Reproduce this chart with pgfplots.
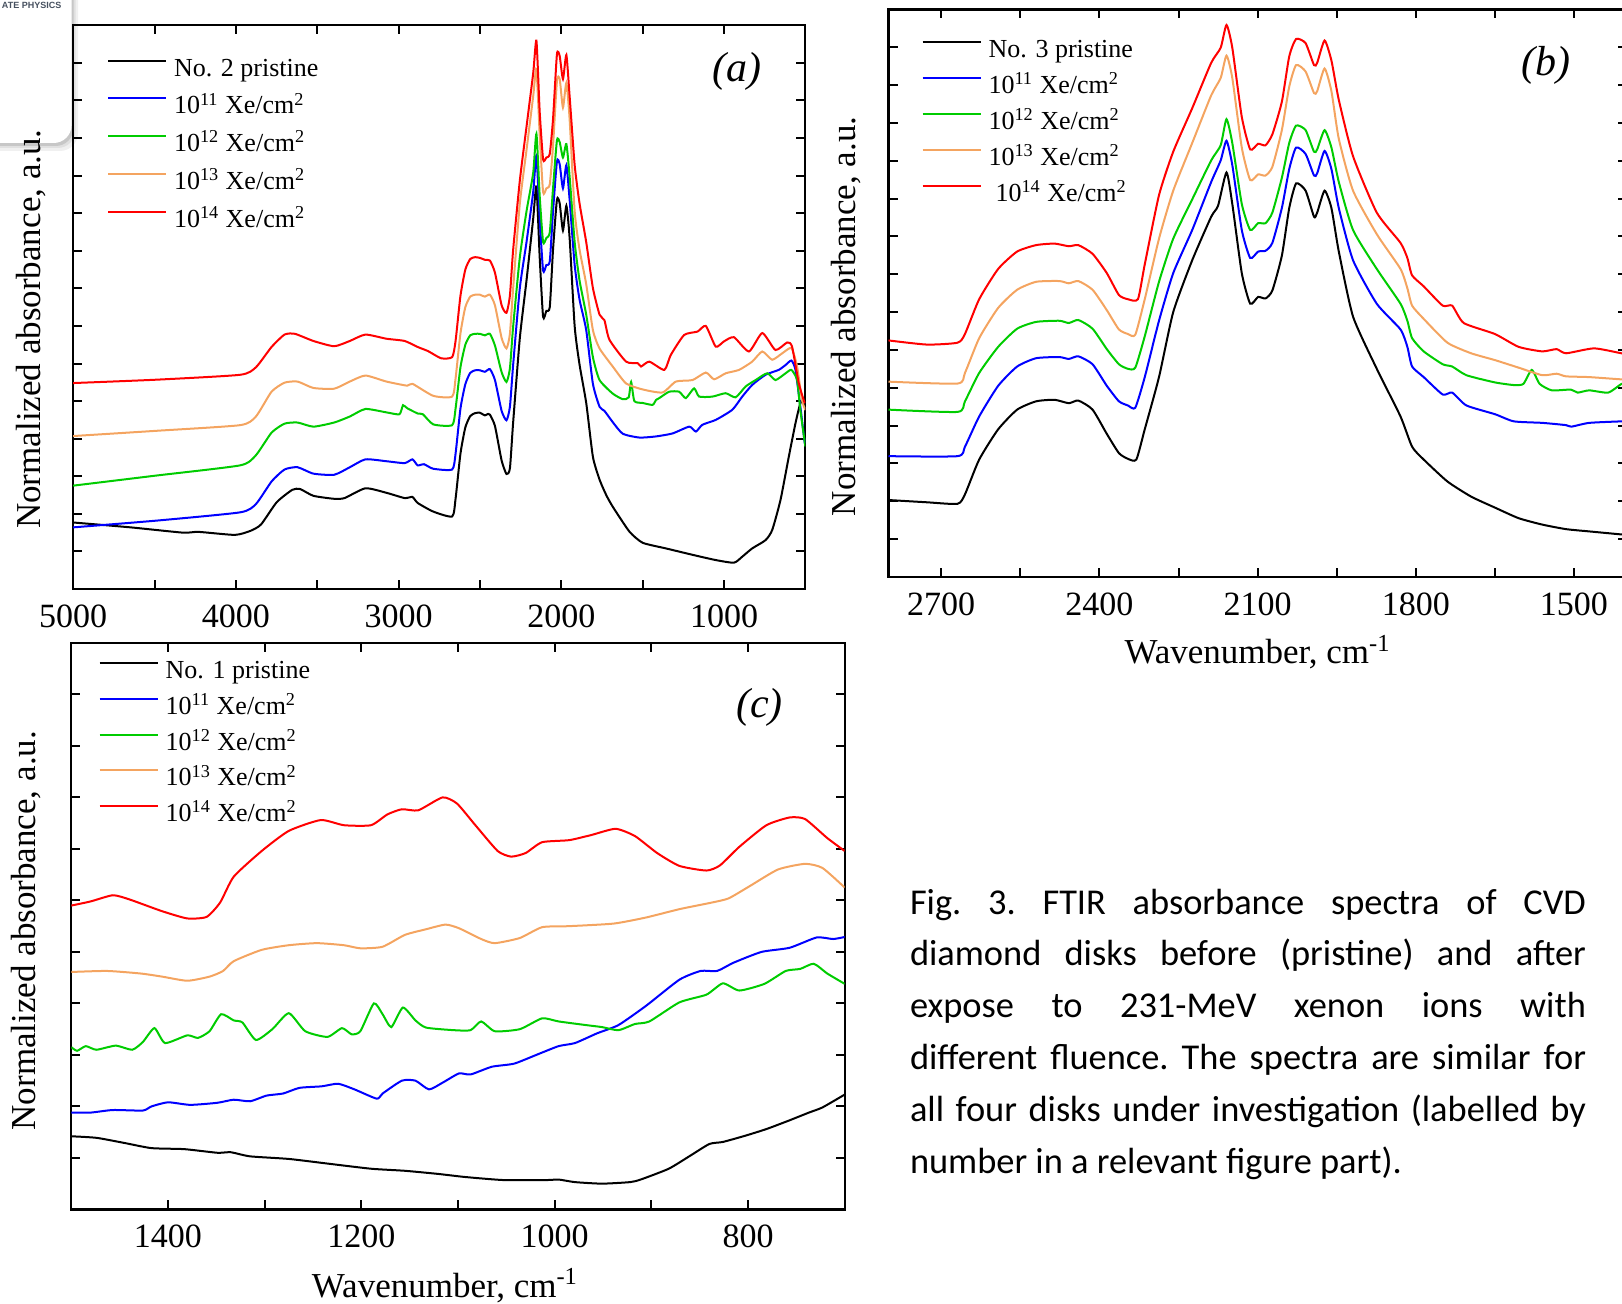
\documentclass[border=0pt]{standalone}
\usepackage{pgfplots}
\pgfplotsset{compat=1.18}
\usepackage{fontspec}
\setmainfont{Liberation Serif}
\newfontfamily\calibri{Carlito}
\newfontfamily\logofont{Liberation Sans}
\definecolor{cblue}{RGB}{0,0,255}
\definecolor{cgreen}{RGB}{0,204,0}
\definecolor{corange}{RGB}{244,164,96}
\definecolor{cred}{RGB}{255,0,0}
\definecolor{logotxt}{RGB}{70,80,95}
\pgfplotsset{
 panel/.style={
  scale only axis,
  x dir=reverse,
  ymin=0, ymax=15,
  ytick={1,...,14},
  yticklabels={},
  tick align=inside,
  major tick length=4.5pt,
  minor tick length=4.5pt,
  axis line style={line width=1.1pt},
  tick style={line width=1pt, black},
  tick label style={font=\fontsize{17}{20}\selectfont},
  xticklabel style={anchor=base, yshift=-19.2pt},
  /pgf/number format/assume math mode=true,
  /pgf/number format/set thousands separator={},
  label style={font=\fontsize{17.5}{21}\selectfont},
  every axis plot/.append style={line width=1pt, no marks, smooth, tension=0.35},
  legend style={draw=none, fill=none, inner sep=0pt, outer sep=0pt, anchor=north west,
    font=\fontsize{13}{15}\selectfont, row sep=4.1pt, column sep=3.5pt,
    nodes={inner sep=0pt, text height=9pt, text depth=2.5pt}},
  legend cell align=left,
  legend image code/.code={\path[draw=none,fill=none] (0pt,-2.5pt) rectangle (29pt,9pt); \draw[##1, line width=1pt] (0pt,4.5pt) -- (29pt,4.5pt);},
 }
}
\begin{document}
\begin{tikzpicture}
\useasboundingbox (0pt,0pt) rectangle (811pt,651.5pt);
% logo fragment
\fill[black!6, rounded corners=9pt] (-20pt,576pt) rectangle (39pt,690pt);
\fill[black!12, rounded corners=9pt] (-20pt,577.5pt) rectangle (37.8pt,690pt);
\fill[black!22, rounded corners=9pt] (-20pt,578.5pt) rectangle (36.8pt,690pt);
\fill[white, rounded corners=9pt] (-20pt,580pt) rectangle (35.8pt,690pt);
\node[anchor=base west, inner sep=0pt, font=\logofont\bfseries\fontsize{4.5}{5}\selectfont, text=logotxt] at (0.8pt,647pt) {ATE PHYSICS};

% ---------------- panel (a)
\begin{axis}[panel, at={(36.6pt,357pt)}, anchor=south west, width=366.1pt, height=281.85pt,
  xmin=500, xmax=5000, xtick={1000,2000,3000,4000,5000}, minor xtick={1500,2500,3500,4500},
  ylabel={Normalized absorbance, a.u.},
  ylabel style={at={(axis description cs:-0.0574,0.461)}, anchor=center},
  legend style={at={(axis description cs:0.0462,0.953)}}]
\addplot[black] coordinates {(5000,1.77)(4647,1.64)(4326,1.50)(4230,1.52)(4006,1.44)(3909,1.55)(3845,1.72)(3749,2.31)(3653,2.64)(3605,2.66)(3524,2.48)(3396,2.40)(3332,2.42)(3204,2.68)(3075,2.56)(2963,2.42)(2915,2.45)(2883,2.29)(2787,2.06)(2671,1.93)(2650,2.40)(2620,3.60)(2590,4.30)(2560,4.60)(2530,4.68)(2500,4.69)(2470,4.62)(2450,4.66)(2439,4.64)(2408,4.34)(2367,3.42)(2337,3.06)(2316,3.21)(2296,4.44)(2255,6.68)(2214,8.21)(2173,9.85)(2153,10.71)(2133,8.83)(2112,7.24)(2092,7.40)(2071,7.50)(2051,9.03)(2027,10.36)(2010,10.26)(1990,9.54)(1969,10.20)(1949,9.34)(1918,6.99)(1888,5.97)(1847,4.95)(1806,3.52)(1765,2.91)(1724,2.50)(1684,2.19)(1582,1.53)(1500,1.23)(1357,1.08)(1194,0.91)(1051,0.77)(939,0.70)(888,0.86)(827,1.08)(745,1.30)(704,1.57)(653,2.37)(602,3.52)(561,4.41)(531,4.94)(500,5.10)};
\addlegendentry{No. 2 pristine}
\addplot[cblue] coordinates {(5000,1.64)(4487,1.82)(3974,2.04)(3877,2.26)(3781,2.86)(3701,3.18)(3621,3.24)(3524,3.07)(3396,3.04)(3300,3.24)(3204,3.45)(3075,3.40)(2963,3.35)(2915,3.45)(2883,3.29)(2844,3.32)(2787,3.20)(2671,3.18)(2650,3.60)(2620,4.80)(2590,5.45)(2560,5.75)(2530,5.82)(2500,5.82)(2470,5.78)(2439,5.85)(2408,5.56)(2367,4.74)(2337,4.49)(2316,4.85)(2296,5.97)(2255,8.01)(2214,9.23)(2173,10.56)(2153,11.53)(2133,9.85)(2112,8.47)(2092,8.62)(2071,8.72)(2051,10.05)(2027,11.38)(2010,11.30)(1990,10.66)(1969,11.28)(1949,10.36)(1918,8.62)(1888,7.70)(1847,6.89)(1806,5.46)(1765,4.85)(1735,4.74)(1684,4.44)(1622,4.13)(1520,4.03)(1418,4.06)(1316,4.14)(1214,4.32)(1173,4.19)(1133,4.37)(1051,4.50)(949,4.77)(888,5.12)(827,5.43)(745,5.70)(664,5.83)(622,5.96)(586,6.08)(561,5.83)(531,4.85)(504,3.88)};
\addlegendentry{10\textsuperscript{11} Xe/cm\textsuperscript{2}}
\addplot[cgreen] coordinates {(5000,2.75)(4487,3.02)(3974,3.29)(3877,3.56)(3781,4.16)(3701,4.40)(3621,4.43)(3524,4.32)(3396,4.43)(3300,4.59)(3204,4.79)(3075,4.70)(2995,4.65)(2973,4.89)(2947,4.81)(2883,4.67)(2851,4.65)(2787,4.38)(2671,4.36)(2650,4.80)(2620,5.90)(2590,6.50)(2560,6.75)(2530,6.79)(2500,6.79)(2470,6.75)(2439,6.79)(2408,6.48)(2367,5.77)(2337,5.51)(2316,5.87)(2296,6.99)(2255,8.83)(2214,10.05)(2173,11.07)(2153,12.11)(2133,10.46)(2112,9.23)(2092,9.34)(2071,9.49)(2051,10.66)(2027,11.94)(2010,11.89)(1990,11.48)(1969,11.84)(1949,10.97)(1918,9.23)(1888,8.21)(1847,7.30)(1806,6.17)(1765,5.56)(1684,5.20)(1622,5.05)(1586,5.10)(1571,5.51)(1551,5.00)(1500,4.95)(1439,4.90)(1418,5.03)(1398,5.08)(1337,5.25)(1276,5.25)(1235,5.08)(1184,5.34)(1153,5.12)(1071,5.12)(990,5.21)(929,5.10)(867,5.39)(806,5.56)(735,5.74)(684,5.56)(622,5.74)(586,5.83)(551,5.56)(531,4.76)(500,3.79)};
\addlegendentry{10\textsuperscript{12} Xe/cm\textsuperscript{2}}
\addplot[corange] coordinates {(5000,4.07)(4487,4.21)(3974,4.36)(3877,4.59)(3781,5.25)(3701,5.49)(3621,5.52)(3524,5.35)(3396,5.33)(3300,5.52)(3204,5.68)(3075,5.52)(2947,5.41)(2915,5.46)(2787,5.14)(2671,5.12)(2650,5.60)(2620,6.80)(2590,7.50)(2560,7.78)(2530,7.83)(2500,7.83)(2470,7.78)(2439,7.83)(2408,7.55)(2367,6.68)(2337,6.40)(2316,6.79)(2296,8.01)(2255,10.26)(2214,11.68)(2173,13.11)(2153,13.83)(2133,12.09)(2112,10.56)(2092,10.66)(2071,10.77)(2051,11.79)(2027,13.52)(2010,13.57)(1990,12.81)(1969,13.47)(1949,12.50)(1918,10.05)(1888,9.03)(1847,8.11)(1806,6.89)(1765,6.40)(1684,5.92)(1602,5.47)(1500,5.31)(1378,5.23)(1296,5.52)(1194,5.56)(1112,5.76)(1061,5.58)(990,5.74)(908,5.83)(827,6.05)(765,6.32)(704,6.10)(643,6.27)(586,6.41)(551,5.92)(521,5.03)(500,4.76)};
\addlegendentry{10\textsuperscript{13} Xe/cm\textsuperscript{2}}
\addplot[cred] coordinates {(5000,5.48)(4487,5.57)(3974,5.70)(3877,5.90)(3781,6.44)(3701,6.77)(3637,6.79)(3524,6.60)(3396,6.46)(3300,6.60)(3204,6.77)(3075,6.66)(2963,6.60)(2883,6.44)(2819,6.33)(2739,6.14)(2671,6.17)(2650,6.60)(2620,7.80)(2590,8.50)(2560,8.78)(2530,8.83)(2500,8.81)(2470,8.76)(2439,8.74)(2408,8.42)(2367,7.55)(2337,7.35)(2316,7.81)(2296,9.03)(2255,10.87)(2214,12.30)(2173,13.72)(2153,14.59)(2133,12.70)(2112,11.43)(2092,11.48)(2071,11.58)(2051,12.50)(2027,14.23)(2010,14.18)(1990,13.57)(1969,14.21)(1949,13.11)(1918,11.28)(1888,10.26)(1847,9.23)(1806,8.01)(1765,7.30)(1735,7.15)(1704,6.63)(1602,6.05)(1531,6.01)(1510,5.92)(1459,6.05)(1367,5.83)(1327,6.23)(1245,6.76)(1163,6.85)(1112,7.00)(1051,6.45)(1000,6.59)(939,6.70)(847,6.32)(765,6.81)(684,6.36)(612,6.56)(582,6.45)(541,5.48)(504,4.94)};
\addlegendentry{10\textsuperscript{14} Xe/cm\textsuperscript{2}}
\node[font=\fontsize{21}{24}\selectfont\itshape] at (axis description cs:0.9066,0.918) {(a)};
\end{axis}

% ---------------- panel (b)
\begin{axis}[panel, at={(444.25pt,363.1pt)}, anchor=south west, width=369.1pt, height=283.65pt,
  xmin=1400, xmax=2800, xtick={1500,1800,2100,2400,2700}, minor xtick={1650,1950,2250,2550},
  ylabel={Normalized absorbance, a.u.},
  ylabel style={at={(axis description cs:-0.0569,0.459)}, anchor=center},
  xlabel={Wavenumber, cm\textsuperscript{-1}},
  xlabel style={at={(axis description cs:0.5,0)}, anchor=base, yshift=-43.4pt},
  legend style={at={(axis description cs:0.0448,0.959)}, row sep=3.3pt}]
\addplot[black] coordinates {(2800,2.03)(2727,1.97)(2669,1.93)(2655,2.18)(2628,3.10)(2592,3.90)(2556,4.42)(2520,4.64)(2485,4.68)(2458,4.59)(2440,4.66)(2413,4.42)(2386,3.78)(2363,3.27)(2346,3.12)(2330,3.10)(2314,3.90)(2287,5.28)(2260,7.00)(2224,8.37)(2188,9.52)(2175,9.81)(2159,10.69)(2148,9.86)(2130,8.03)(2114,7.22)(2099,7.40)(2085,7.36)(2072,7.57)(2054,8.49)(2040,9.75)(2027,10.40)(2009,10.21)(1993,9.52)(1987,9.63)(1973,10.21)(1960,9.75)(1946,8.60)(1919,6.88)(1874,5.50)(1829,4.24)(1807,3.44)(1785,3.10)(1740,2.52)(1695,2.12)(1650,1.83)(1605,1.55)(1560,1.38)(1515,1.26)(1471,1.20)(1410,1.12)(1400,1.11)};
\addlegendentry{No. 3 pristine}
\addplot[cblue] coordinates {(2800,3.19)(2669,3.19)(2655,3.44)(2628,4.24)(2592,5.05)(2556,5.56)(2520,5.78)(2476,5.81)(2458,5.76)(2440,5.83)(2413,5.62)(2386,5.05)(2363,4.64)(2346,4.53)(2332,4.47)(2314,5.28)(2287,6.77)(2260,8.03)(2224,9.17)(2188,10.44)(2170,11.01)(2159,11.53)(2148,10.89)(2130,9.17)(2114,8.43)(2099,8.60)(2085,8.62)(2072,8.83)(2054,9.75)(2040,10.78)(2027,11.35)(2009,11.18)(1993,10.61)(1987,10.67)(1973,11.26)(1960,10.78)(1946,9.75)(1919,8.37)(1874,7.22)(1829,6.54)(1816,6.08)(1807,5.56)(1785,5.28)(1749,4.82)(1731,4.87)(1704,4.53)(1650,4.30)(1614,4.11)(1560,4.07)(1515,4.01)(1505,3.97)(1471,4.07)(1410,4.11)(1400,4.11)};
\addlegendentry{10\textsuperscript{11} Xe/cm\textsuperscript{2}}
\addplot[cgreen] coordinates {(2800,4.42)(2669,4.36)(2655,4.64)(2628,5.39)(2592,6.08)(2556,6.56)(2520,6.74)(2476,6.77)(2458,6.71)(2440,6.79)(2413,6.56)(2386,6.02)(2363,5.62)(2346,5.50)(2332,5.53)(2314,6.36)(2287,7.80)(2260,8.94)(2224,9.98)(2188,11.01)(2170,11.41)(2159,12.10)(2148,11.47)(2130,9.86)(2114,9.17)(2099,9.35)(2085,9.35)(2072,9.63)(2054,10.55)(2040,11.47)(2027,11.93)(2009,11.81)(1993,11.24)(1987,11.30)(1973,11.81)(1960,11.35)(1946,10.44)(1919,9.17)(1874,8.14)(1829,7.22)(1816,6.77)(1807,6.31)(1785,5.96)(1749,5.62)(1731,5.56)(1704,5.33)(1650,5.14)(1614,5.07)(1596,5.10)(1580,5.47)(1565,5.10)(1542,4.93)(1506,4.95)(1493,4.87)(1471,4.93)(1435,4.87)(1410,5.10)(1400,5.10)};
\addlegendentry{10\textsuperscript{12} Xe/cm\textsuperscript{2}}
\addplot[corange] coordinates {(2800,5.16)(2669,5.11)(2655,5.39)(2628,6.31)(2592,7.11)(2556,7.59)(2520,7.80)(2476,7.82)(2458,7.76)(2440,7.82)(2413,7.59)(2386,7.05)(2363,6.54)(2346,6.42)(2332,6.40)(2314,7.34)(2287,8.94)(2260,10.21)(2224,11.47)(2188,12.73)(2170,13.19)(2159,13.78)(2148,13.19)(2130,11.35)(2114,10.49)(2099,10.64)(2085,10.61)(2072,10.84)(2054,11.81)(2040,12.96)(2027,13.53)(2009,13.36)(1993,12.79)(1987,12.84)(1973,13.44)(1960,12.84)(1946,11.58)(1919,10.21)(1874,9.06)(1829,8.14)(1816,7.63)(1807,7.17)(1785,6.82)(1740,6.19)(1695,5.91)(1650,5.73)(1605,5.53)(1560,5.33)(1533,5.37)(1515,5.30)(1471,5.28)(1410,5.22)(1400,5.22)};
\addlegendentry{10\textsuperscript{13} Xe/cm\textsuperscript{2}}
\addplot[cred] coordinates {(2800,6.25)(2727,6.14)(2669,6.19)(2655,6.42)(2628,7.34)(2592,8.14)(2556,8.60)(2520,8.77)(2485,8.81)(2458,8.74)(2440,8.77)(2413,8.54)(2386,8.03)(2363,7.45)(2346,7.34)(2327,7.34)(2314,8.26)(2287,10.09)(2260,11.24)(2224,12.39)(2188,13.59)(2170,13.99)(2159,14.59)(2148,13.99)(2130,12.16)(2114,11.30)(2099,11.45)(2085,11.41)(2072,11.70)(2054,12.56)(2040,13.76)(2027,14.22)(2009,14.11)(1993,13.53)(1987,13.59)(1973,14.18)(1960,13.65)(1946,12.61)(1919,11.12)(1874,9.63)(1829,8.83)(1816,8.43)(1807,7.97)(1785,7.68)(1749,7.17)(1731,7.17)(1709,6.71)(1650,6.42)(1605,6.08)(1560,5.96)(1533,6.02)(1515,5.91)(1462,6.04)(1410,5.91)(1400,5.90)};
\addlegendentry{\hspace{3.5pt}10\textsuperscript{14} Xe/cm\textsuperscript{2}}
\node[font=\fontsize{21}{24}\selectfont\itshape] at (axis description cs:0.8907,0.902) {(b)};
\end{axis}

% ---------------- panel (c)
\begin{axis}[panel, at={(35.65pt,46.8pt)}, anchor=south west, width=386.7pt, height=283.25pt,
  xmin=700, xmax=1500, ymax=11, ytick={1,...,10},
  xtick={800,1000,1200,1400}, minor xtick={900,1100,1300},
  ylabel={Normalized absorbance, a.u.},
  ylabel style={at={(axis description cs:-0.0582,0.492)}, anchor=center},
  xlabel={Wavenumber, cm\textsuperscript{-1}},
  xlabel style={at={(axis description cs:0.5,0)}, anchor=base, yshift=-44pt, xshift=-6.5pt},
  legend style={at={(axis description cs:0.0354,0.980)}, row sep=3.1pt}]
\addplot[black] coordinates {(1500,1.42)(1474,1.39)(1445,1.29)(1417,1.19)(1383,1.17)(1349,1.10)(1335,1.11)(1315,1.03)(1275,0.98)(1235,0.89)(1190,0.79)(1155,0.75)(1121,0.69)(1093,0.63)(1053,0.57)(1008,0.57)(996,0.58)(979,0.53)(951,0.50)(922,0.53)(911,0.58)(882,0.79)(860,1.04)(840,1.27)(826,1.31)(803,1.43)(781,1.56)(757,1.73)(737,1.88)(723,1.98)(700,2.23)};
\addlegendentry{No. 1 pristine}
\addplot[cblue] coordinates {(1500,1.88)(1480,1.88)(1457,1.93)(1426,1.92)(1417,2.00)(1400,2.08)(1377,2.03)(1349,2.07)(1332,2.13)(1315,2.10)(1298,2.21)(1281,2.25)(1264,2.36)(1241,2.39)(1224,2.44)(1207,2.33)(1184,2.15)(1178,2.25)(1158,2.50)(1144,2.50)(1130,2.33)(1116,2.46)(1099,2.64)(1087,2.62)(1065,2.77)(1042,2.83)(1019,3.00)(996,3.17)(979,3.23)(956,3.42)(934,3.58)(905,3.96)(871,4.46)(849,4.63)(832,4.63)(815,4.79)(786,5.00)(757,5.08)(729,5.28)(712,5.25)(700,5.29)};
\addlegendentry{10\textsuperscript{11} Xe/cm\textsuperscript{2}}
\addplot[cgreen] coordinates {(1500,3.15)(1494,3.08)(1485,3.17)(1474,3.10)(1454,3.18)(1437,3.10)(1426,3.25)(1414,3.52)(1403,3.23)(1380,3.38)(1369,3.33)(1357,3.46)(1345,3.79)(1332,3.67)(1323,3.63)(1309,3.29)(1292,3.50)(1275,3.81)(1258,3.46)(1235,3.35)(1220,3.52)(1210,3.40)(1201,3.46)(1187,4.00)(1178,3.79)(1169,3.54)(1157,3.92)(1144,3.67)(1133,3.53)(1104,3.48)(1087,3.48)(1076,3.65)(1062,3.46)(1036,3.50)(1013,3.71)(996,3.65)(968,3.58)(951,3.54)(934,3.48)(917,3.60)(902,3.65)(871,4.02)(843,4.17)(826,4.39)(809,4.25)(783,4.38)(761,4.63)(746,4.67)(732,4.77)(718,4.58)(700,4.38)};
\addlegendentry{10\textsuperscript{12} Xe/cm\textsuperscript{2}}
\addplot[corange] coordinates {(1500,4.61)(1463,4.63)(1428,4.58)(1406,4.52)(1380,4.44)(1357,4.52)(1343,4.63)(1332,4.82)(1303,5.04)(1275,5.13)(1246,5.17)(1218,5.13)(1201,5.07)(1178,5.10)(1155,5.33)(1133,5.44)(1113,5.53)(1099,5.46)(1076,5.25)(1062,5.17)(1036,5.27)(1013,5.48)(985,5.50)(939,5.55)(905,5.67)(871,5.83)(837,5.96)(820,6.04)(798,6.28)(769,6.60)(741,6.71)(723,6.63)(700,6.25)};
\addlegendentry{10\textsuperscript{13} Xe/cm\textsuperscript{2}}
\addplot[cred] coordinates {(1500,5.90)(1480,5.98)(1457,6.10)(1440,6.02)(1406,5.79)(1380,5.65)(1360,5.68)(1346,5.96)(1332,6.46)(1303,6.96)(1275,7.35)(1242,7.56)(1218,7.46)(1190,7.46)(1173,7.67)(1158,7.77)(1141,7.75)(1116,8.00)(1101,7.88)(1082,7.46)(1059,6.96)(1045,6.85)(1030,6.92)(1013,7.13)(985,7.17)(962,7.27)(937,7.39)(917,7.25)(894,6.92)(871,6.67)(843,6.58)(829,6.68)(809,7.04)(781,7.46)(757,7.61)(741,7.58)(718,7.21)(700,6.96)};
\addlegendentry{10\textsuperscript{14} Xe/cm\textsuperscript{2}}
\node[font=\fontsize{21}{24}\selectfont\itshape] at (axis description cs:0.890,0.887) {(c)};
\end{axis}

% ---------------- caption
\node[anchor=base west, inner sep=0pt] at (454.8pt,194.5pt) {\parbox[t]{338pt}{\calibri\fontsize{18.2}{25.9}\selectfont\frenchspacing
\makebox[338pt][s]{Fig. 3. FTIR absorbance spectra of CVD}\\
\makebox[338pt][s]{diamond disks before (pristine) and after}\\
\makebox[338pt][s]{expose to 231-MeV xenon ions with}\\
\makebox[338pt][s]{different fluence. The spectra are similar for}\\
\makebox[338pt][s]{all four disks under investigation (labelled by}\\
number in a relevant figure part).}};
\end{tikzpicture}
\end{document}
